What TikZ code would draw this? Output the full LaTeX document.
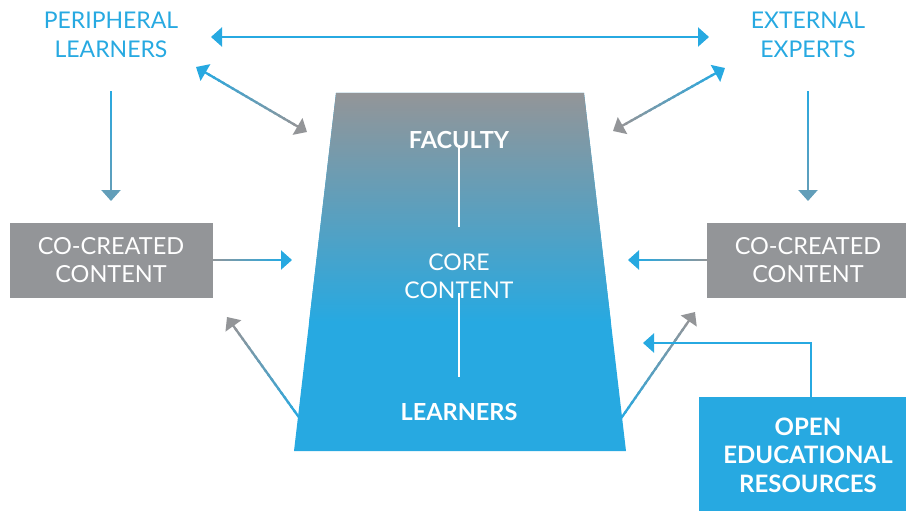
\documentclass[tikz,border=0pt]{standalone}
\usepackage{fontspec}
\setmainfont{Lato}
\usepackage{tikz}
\usetikzlibrary{arrows.meta, calc}

\definecolor{cblue}{HTML}{27A9E1}
\definecolor{cgray}{HTML}{939598}
\colorlet{cmid}{cblue!45!cgray}

% connector whose colour runs from #3 (at #1) to #4 (at #2); #5=1 gives a head at both ends
\newcommand{\fadearrow}[5]{%
  \coordinate (fa-s) at (#1);
  \ifnum#5=1 \coordinate (fa-s) at ($(#1)!10pt!(#2)$);\fi
  \coordinate (fa-e) at ($(#2)!10pt!(#1)$);
  \foreach \k in {1,...,20}{%
    \pgfmathtruncatemacro{\mix}{102-5*\k}
    \pgfmathsetmacro{\fa}{(\k-1)/20}
    \pgfmathsetmacro{\fb}{\k/20}
    \draw[conn, line cap=rect, #3!\mix!#4] ($(fa-s)!\fa!(fa-e)$) -- ($(fa-s)!\fb!(fa-e)$);
  }
  \draw[conn, #4, headed] (fa-e) -- (#2);
  \ifnum#5=1 \draw[conn, #3, headed] (fa-s) -- (#1);\fi
}

\begin{document}
\begin{tikzpicture}[
    x=1pt, y=-1pt,
    conn/.style={line width=2.3pt},
    headed/.style={-{Triangle[length=11pt, width=19pt]}},
    crowd/.style={text=cblue, align=center, font=\fontsize{23}{28.5}\selectfont},
    block/.style={fill=cgray, text=white, align=center, minimum width=203pt, minimum height=75pt, font=\fontsize{23.5}{28.5}\selectfont},
    inner/.style={text=white, align=center, font=\fontsize{23}{28.5}\selectfont},
    strong/.style={text=white, align=center, font=\bfseries\fontsize{23.5}{28.5}\selectfont},
    spine/.style={white, line width=2.4pt}
  ]
    \useasboundingbox (0,0) rectangle (906,511);

    % core trapezoid
    \fill[cblue] (336,93) -- (584,93) -- (626,451) -- (294,451) -- cycle;
    \begin{scope}
      \clip (336,93) -- (584,93) -- (626,451) -- (294,451) -- cycle;
      \shade[top color=cgray, bottom color=cblue] (290,93) rectangle (630,322);
    \end{scope}

    \node[strong] (faculty) at (459,140) {FACULTY};
    \node[inner] (core) at (459,276.5) {CORE\\CONTENT};
    \node[strong] (learners) at (459,412) {LEARNERS};
    \draw[spine] ([yshift=-5pt]faculty.center) -- ([yshift=49.5pt]core.center);
    \draw[spine] ([yshift=-16.5pt]core.center) -- ([yshift=35pt]learners.center);

    % outer groups and boxes
    \node[crowd] (peri) at (111,35) {PERIPHERAL\\LEARNERS};
    \node[crowd] (ext) at (808,35) {EXTERNAL\\EXPERTS};
    \node[block] (cocl) at (111,260) {CO-CREATED\\CONTENT};
    \node[block] (cocr) at (808,260) {CO-CREATED\\CONTENT};
    \node[block, fill=cblue, minimum width=218pt, minimum height=116pt, font=\bfseries\fontsize{24}{28.5}\selectfont] (oer) at (808,455) {OPEN\\EDUCATIONAL\\RESOURCES};

    % arrow ends
    \coordinate (top-l) at (211,37);
    \coordinate (top-r) at (709,37);
    \coordinate (dl-a) at (196,67);
    \coordinate (dl-b) at (307,132);
    \coordinate (dr-a) at (725,68);
    \coordinate (dr-b) at (613,131);
    \coordinate (vl-a) at (111,92);
    \coordinate (vl-b) at (111,201);
    \coordinate (vr-a) at (808,92);
    \coordinate (vr-b) at (808,201);
    \coordinate (hl-b) at (292,260);
    \coordinate (hr-b) at (628,260);
    \coordinate (ll-a) at (298,416);
    \coordinate (ll-b) at (227,317);
    \coordinate (lr-a) at (622,417);
    \coordinate (lr-b) at (695,312);
    \coordinate (oer-in) at (643,343);

    \draw[conn, cblue, {Triangle[length=11pt, width=19pt]}-{Triangle[length=11pt, width=19pt]}] (top-l) -- (top-r);
    \fadearrow{dl-a}{dl-b}{cblue}{cgray}{1}
    \fadearrow{dr-a}{dr-b}{cblue}{cgray}{1}
    \fadearrow{vl-a}{vl-b}{cblue}{cmid}{0}
    \fadearrow{vr-a}{vr-b}{cblue}{cmid}{0}
    \fadearrow{cocl.east}{hl-b}{cgray}{cblue}{0}
    \fadearrow{cocr.west}{hr-b}{cgray}{cblue}{0}
    \fadearrow{ll-a}{ll-b}{cblue}{cgray}{0}
    \fadearrow{lr-a}{lr-b}{cblue}{cgray}{0}
    \draw[conn, cblue, headed] ([xshift=3pt]oer.north) |- (oer-in);
\end{tikzpicture}
\end{document}
